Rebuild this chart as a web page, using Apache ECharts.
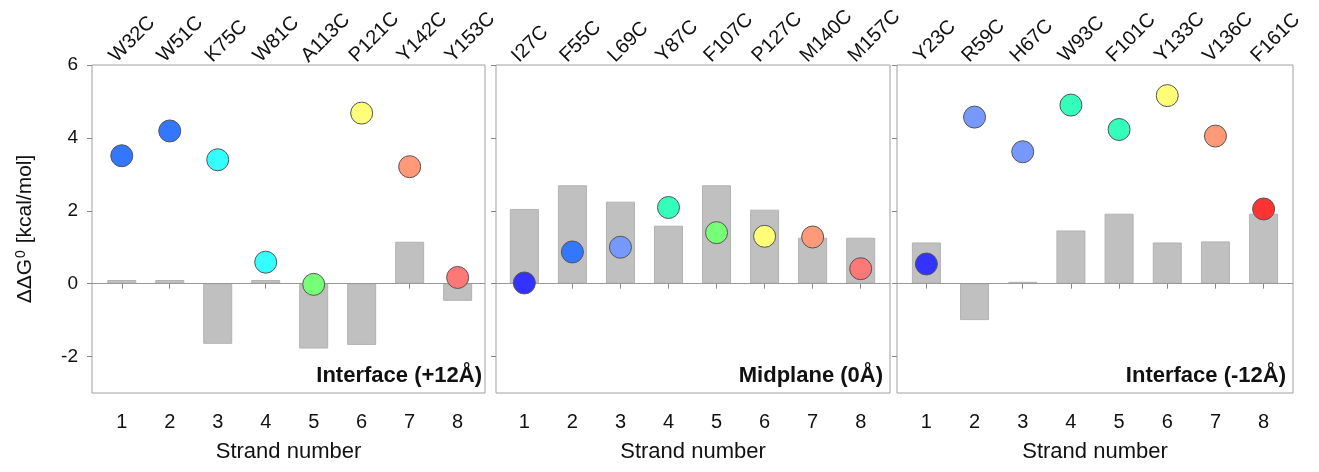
<!DOCTYPE html>
<html>
<head>
<meta charset="utf-8">
<script src="https://cdn.jsdelivr.net/npm/echarts@6/dist/echarts.min.js"></script>
<style>
  html, body { margin: 0; padding: 0; background: #fff; }
  #chart { width: 1319px; height: 472px; }
</style>
</head>
<body>
<div id="chart"></div>
<script>
// strand positions and mutant names per panel
const strands = [1, 2, 3, 4, 5, 6, 7, 8];
const mutants1 = ['W32C', 'W51C', 'K75C', 'W81C', 'A113C', 'P121C', 'Y142C', 'Y153C'];
const mutants2 = ['I27C', 'F55C', 'L69C', 'Y87C', 'F107C', 'P127C', 'M140C', 'M157C'];
const mutants3 = ['Y23C', 'R59C', 'H67C', 'W93C', 'F101C', 'Y133C', 'V136C', 'F161C'];

// grey bars
const bars1 = [0.1, 0.1, -1.65, 0.1, -1.78, -1.68, 1.15, -0.47];
const bars2 = [2.05, 2.70, 2.25, 1.59, 2.70, 2.03, 1.26, 1.26];
const bars3 = [1.13, -1.0, 0.05, 1.46, 1.92, 1.13, 1.16, 1.92];

// coloured circles
const dots1 = [3.51, 4.19, 3.40, 0.59, -0.02, 4.68, 3.21, 0.17];
const dots2 = [0.02, 0.87, 1.0, 2.09, 1.40, 1.30, 1.28, 0.41];
const dots3 = [0.54, 4.57, 3.62, 4.90, 4.23, 5.16, 4.05, 2.05];

const colors1 = ['#3377ff', '#3377ff', '#33ffff', '#33ffff', '#77ff77', '#ffff77', '#ff9977', '#ff7777'];
const colors2 = ['#3333ff', '#3377ff', '#7799ff', '#33ffbb', '#77ff77', '#ffff77', '#ff9977', '#ff7777'];
const colors3 = ['#3333ff', '#7799ff', '#7799ff', '#33ffbb', '#33ffbb', '#ffff77', '#ff9977', '#ff3333'];

const panelNames = ['Interface (+12Å)', 'Midplane (0Å)', 'Interface (-12Å)'];
const yTicks = [-2, 0, 2, 4, 6];

const font = "'Liberation Sans', Arial, sans-serif";

const panels = [
  { mutants: mutants1, bars: bars1, dots: dots1, colors: colors1, left: 92, width: 393, min: 0.38, max: 8.57 },
  { mutants: mutants2, bars: bars2, dots: dots2, colors: colors2, left: 496, width: 394, min: 0.41, max: 8.61 },
  { mutants: mutants3, bars: bars3, dots: dots3, colors: colors3, left: 897, width: 396, min: 0.39, max: 8.61 }
];

// top labels sit a little left of their strand
const labelShift = 0.19;

const chart = echarts.init(document.getElementById('chart'));

const grid = [];
const xAxis = [];
const yAxis = [];
const series = [];
const title = [];

panels.forEach((p, i) => {
  grid.push({
    left: p.left, top: 65, width: p.width, height: 328,
    show: true, borderColor: '#a0a0a0', borderWidth: 1, backgroundColor: '#fff'
  });

  // bottom axis: strand numbers
  xAxis.push({
    gridIndex: i, type: 'value', position: 'bottom',
    min: p.min, max: p.max,
    name: 'Strand number', nameLocation: 'middle', nameGap: 48,
    nameTextStyle: { fontFamily: font, fontSize: 22, color: '#111' },
    axisLine: { show: false },
    splitLine: { show: false },
    axisTick: { show: true, customValues: strands, length: 5, lineStyle: { color: '#888' } },
    axisLabel: { customValues: strands, margin: 19, fontFamily: font, fontSize: 20, color: '#111' }
  });

  // top axis: mutant names
  xAxis.push({
    gridIndex: i, type: 'value', position: 'top',
    min: p.min + labelShift, max: p.max + labelShift,
    axisLine: { show: false },
    splitLine: { show: false },
    axisTick: { show: false },
    axisLabel: {
      customValues: strands, rotate: -45, margin: 6,
      fontFamily: font, fontSize: 20, color: '#111',
      formatter: v => p.mutants[Math.round(v) - 1]
    }
  });

  yAxis.push({
    gridIndex: i, type: 'value', min: -3, max: 6,
    name: i === 0 ? '{d|ΔΔG}{s|0}{d| [kcal/mol]}' : '',
    nameLocation: 'middle', nameGap: 56,
    nameTextStyle: {
      fontFamily: font, fontSize: 21, color: '#111',
      rich: {
        d: { fontFamily: font, fontSize: 21, color: '#111' },
        s: { fontFamily: font, fontSize: 14, color: '#111', verticalAlign: 'top', padding: [0, 1, 8, 1] }
      }
    },
    axisLine: { show: false },
    splitLine: { show: false },
    axisTick: { show: true, customValues: yTicks, length: 5, lineStyle: { color: '#888' } },
    axisLabel: { show: i === 0, customValues: yTicks, margin: 14, fontFamily: font, fontSize: 19, color: '#111' }
  });

  series.push({
    type: 'bar', xAxisIndex: i * 2, yAxisIndex: i,
    barWidth: 29,
    data: strands.map((s, k) => [s, p.bars[k]]),
    itemStyle: { color: '#c0c0c0', borderColor: '#b2b2b2', borderWidth: 1 },
    silent: true,
    markLine: {
      silent: true, symbol: 'none', label: { show: false },
      lineStyle: { color: '#999', type: 'solid', width: 1 },
      data: [{ yAxis: 0 }]
    },
    z: 2
  });

  series.push({
    type: 'scatter', xAxisIndex: i * 2, yAxisIndex: i,
    symbolSize: 22,
    data: strands.map((s, k) => ({
      value: [s, p.dots[k]],
      itemStyle: { color: p.colors[k] }
    })),
    itemStyle: { borderColor: '#555', borderWidth: 1, opacity: 1 },
    z: 5
  });

  title.push({
    text: panelNames[i],
    right: 1319 - (p.left + p.width) + (i === 0 ? 3 : 7),
    top: 365,
    padding: 0,
    textStyle: { fontFamily: font, fontSize: 22, fontWeight: 'bold', color: '#111' }
  });
});

chart.setOption({
  animation: false,
  backgroundColor: '#fff',
  title,
  grid,
  xAxis,
  yAxis,
  series
});
</script>
</body>
</html>
